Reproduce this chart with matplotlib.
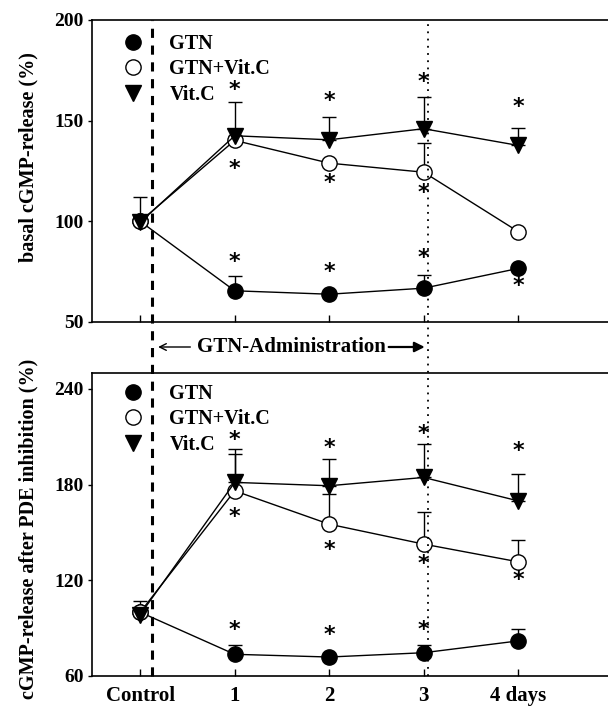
import matplotlib
matplotlib.use('Agg')
import matplotlib.pyplot as plt
from matplotlib.lines import Line2D
from matplotlib.patches import FancyArrowPatch

plt.rcParams['font.family'] = ['Liberation Serif', 'DejaVu Serif']
plt.rcParams['font.weight'] = 'bold'

# x positions: Control, day 1..4
days = [0, 1, 2, 3, 4]
tick_labels = ['Control', '1', '2', '3', '4 days']

# top panel: basal cGMP-release (%)
top_gtn = [100, 65.5, 63.8, 66.8, 76.6]
top_gtn_err = [0, 7.5, 0, 6.5, 0]
top_gtnc = [100, 140.2, 128.9, 124.4, 94.9]
top_gtnc_err = [12, 0, 0, 14.5, 0]
top_vitc = [99.5, 142.5, 140.5, 146, 137.7]
top_vitc_err = [0, 17, 11.3, 16, 8.6]
# asterisk positions (x, y)
top_stars_x = [1, 1, 2, 2, 3, 3, 4, 1, 2, 3, 4]
top_stars_y = [165, 126, 160, 119, 169, 114, 157, 80, 75, 82, 68]

# bottom panel: cGMP-release after PDE inhibition (%)
bot_gtn = [100, 73.6, 71.9, 74.6, 82]
bot_gtn_err = [0, 5.7, 0, 5, 7.7]
bot_gtnc = [100, 176.1, 155.2, 142.7, 131.6]
bot_gtnc_err = [7, 23, 19, 20, 13.6]
bot_vitc = [98.5, 181.4, 179.3, 184.5, 169.8]
bot_vitc_err = [0, 21, 17, 21, 17]
bot_stars_x = [1, 1, 2, 2, 3, 3, 4, 4, 1, 2, 3]
bot_stars_y = [208, 160, 203, 139, 212, 130, 201, 120, 89, 86, 89]

xmin, xmax = -0.51, 4.95
left, width = 92 / 608, 1 - 92 / 608

fig = plt.figure(figsize=(6.08, 7.08), dpi=100)
ax1 = fig.add_axes([left, 1 - 322 / 708, width, 302 / 708])
ax2 = fig.add_axes([left, 1 - 676 / 708, width, 303 / 708])

legend_handles = [
    Line2D([], [], ls='none', marker='o', ms=11, mfc='black', mec='black'),
    Line2D([], [], ls='none', marker='o', ms=11, mfc='white', mec='black'),
    Line2D([], [], ls='none', marker='v', ms=11, mfc='black', mec='black'),
]
legend_labels = ['GTN', 'GTN+Vit.C', 'Vit.C']


def panel(ax, gtn, gtn_e, gtnc, gtnc_e, vitc, vitc_e, sx, sy, leg_y):
    zeros = [0] * len(days)
    for vals, err in [(vitc, vitc_e), (gtnc, gtnc_e), (gtn, gtn_e)]:
        ax.errorbar(days, vals, yerr=[zeros, err], fmt='none', ecolor='black',
                    elinewidth=1, capsize=5, capthick=1, zorder=1)
    ax.plot(days, gtn, color='black', lw=1, marker='o', ms=11,
            mfc='black', mec='black', zorder=3)
    ax.plot(days, gtnc, color='black', lw=1, marker='o', ms=11,
            mfc='white', mec='black', zorder=3)
    ax.plot(days, vitc, color='black', lw=1, marker='v', ms=11,
            mfc='black', mec='black', zorder=4)
    for x, y in zip(sx, sy):
        ax.text(x, y, '*', ha='center', va='center', fontsize=16,
                fontweight='bold', family='DejaVu Sans')
    ax.set_xlim(xmin, xmax)
    ax.set_xticks(days)
    ax.tick_params(axis='x', direction='in', length=5, width=1,
                   labelsize=15, pad=7)
    ax.tick_params(axis='y', direction='out', length=3, width=1,
                   labelsize=14, pad=3)
    ax.spines['right'].set_visible(False)
    for s in ['top', 'left', 'bottom']:
        ax.spines[s].set_linewidth(1.2)
    ax.legend(legend_handles, legend_labels, loc='upper left',
              bbox_to_anchor=(0.06, leg_y), frameon=False,
              fontsize=14.5, handlelength=1, handletextpad=1.3,
              labelspacing=0.28, borderaxespad=0, borderpad=0)


panel(ax1, top_gtn, top_gtn_err, top_gtnc, top_gtnc_err, top_vitc,
      top_vitc_err, top_stars_x, top_stars_y, 0.955)
ax1.set_ylim(50, 200)
ax1.set_yticks([50, 100, 150, 200])
ax1.set_xticklabels([])
ax1.set_ylabel('basal cGMP-release (%)', fontsize=14.5, fontweight='bold')
ax1.yaxis.set_label_coords(-0.103, 0.546)

panel(ax2, bot_gtn, bot_gtn_err, bot_gtnc, bot_gtnc_err, bot_vitc,
      bot_vitc_err, bot_stars_x, bot_stars_y, 0.965)
ax2.set_ylim(60, 250)
ax2.set_yticks([60, 120, 180, 240])
ax2.set_xticklabels(tick_labels)
ax2.set_ylabel('cGMP-release after PDE inhibition (%)', fontsize=14.5,
               fontweight='bold')
ax2.yaxis.set_label_coords(-0.103, 0.485)


def fig_x(xv):
    return left + width * (xv - xmin) / (xmax - xmin)


# GTN administration start / end lines spanning both panels
fig.add_artist(Line2D([fig_x(0.127)] * 2, [1 - 676 / 708, 1 - 20 / 708],
                      color='black', lw=2.2, ls=(0, (3, 2.5))))
fig.add_artist(Line2D([fig_x(3.05)] * 2, [1 - 676 / 708, 1 - 22 / 708],
                      color='black', lw=1.3, ls=(0, (1, 3))))

ya = 1 - 347 / 708
fig.text(fig_x(1.6), ya, 'GTN-Administration', ha='center', va='center',
         fontsize=15, fontweight='bold')
fig.add_artist(FancyArrowPatch(
    (fig_x(0.56), ya), (fig_x(0.16), ya), transform=fig.transFigure,
    arrowstyle='->', mutation_scale=12, lw=1, color='black'))
fig.add_artist(FancyArrowPatch(
    (fig_x(2.6), ya), (fig_x(3.04), ya), transform=fig.transFigure,
    arrowstyle='-|>', mutation_scale=15, lw=1.6, color='black'))

fig.savefig('out.png', dpi=100)
